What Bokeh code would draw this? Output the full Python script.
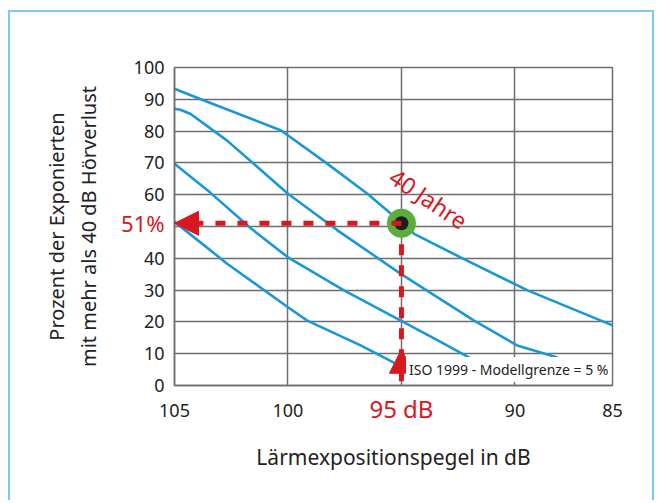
from bokeh.plotting import figure
from bokeh.models import (Range1d, FixedTicker, Label, Arrow, NormalHead,
                          LinearAxis)
from bokeh.embed import file_html
from bokeh.resources import INLINE

# ---------------- data ----------------
x_ticks = [105, 100, 95, 90, 85.7]
x_tick_overrides = {85.7: "85", 95: ""}
y_ticks = [0, 10, 20, 30, 40, 50, 60, 70, 80, 90, 100]
y_tick_overrides = {50: ""}

kurve_1_x = [105.0, 103.7, 100.3, 98.26, 96.5, 95.03, 94.44, 92.4, 89.44, 85.7]
kurve_1_y = [93.3, 89.6, 80.2, 69.7, 60.3, 51.4, 47.7, 40.3, 29.9, 18.9]

kurve_2_x = [105.0, 104.74, 104.29, 102.68, 100.0, 97.82, 95.03, 91.8, 89.9, 88.27, 87.9]
kurve_2_y = [87.0, 86.7, 85.4, 77.0, 60.3, 48.8, 35.1, 20.4, 12.6, 9.1, 8.2]

kurve_3_x = [105.0, 103.4, 101.65, 100.0, 97.53, 95.03, 93.5, 92.09, 91.8]
kurve_3_y = [69.7, 60.5, 49.5, 40.3, 29.9, 20.4, 14.6, 9.1, 8.0]

kurve_4_x = [105.0, 104.51, 102.68, 100.0, 99.15, 96.8, 95.25]
kurve_4_y = [51.5, 48.7, 38.3, 24.6, 20.4, 12.6, 6.9]

kurven = [(kurve_1_x, kurve_1_y), (kurve_2_x, kurve_2_y),
          (kurve_3_x, kurve_3_y), (kurve_4_x, kurve_4_y)]

pegel_db = 95        # marked exposure level
anteil_prozent = 51  # resulting share
modellgrenze = 5     # ISO 1999 model limit in %
pfeil_spitze_y = 11.4

label_40 = "40 Jahre"
label_iso = "ISO 1999 - Modellgrenze = 5 %"
label_pct = "51%"
label_db = "95 dB"
x_title = "Lärmexpositionspegel in dB"
y_title = "Prozent der Exponierten\nmit mehr als 40 dB Hörverlust"

# ---------------- styling ----------------
FONT = "Noto Sans"
BLUE = "#1a98d5"
RED = "#d7191f"
GREEN = "#5aae3c"
GRID = "#6e6e6e"
TXT = "#222222"
FRAME = "#7cc8ee"

p = figure(width=646, height=490,
           x_range=Range1d(105, 85.7), y_range=Range1d(0, 100),
           output_backend="svg", toolbar_location=None,
           min_border_left=164, min_border_right=44,
           min_border_top=55, min_border_bottom=117,
           background_fill_color="white", border_fill_color="white")
p.styles = {"margin-left": "8px", "margin-top": "10px",
            "border-left": f"2px solid {FRAME}",
            "border-top": f"2px solid {FRAME}",
            "border-right": f"2px solid {FRAME}"}

p.xaxis.ticker = FixedTicker(ticks=x_ticks)
p.xaxis.major_label_overrides = x_tick_overrides
p.yaxis.ticker = FixedTicker(ticks=y_ticks)
p.yaxis.major_label_overrides = y_tick_overrides

p.grid.grid_line_color = GRID
p.grid.grid_line_width = 1.5
p.outline_line_color = GRID
p.outline_line_width = 1.5

# secondary axes carrying the red marked values and the titles
x_mark_axis = LinearAxis(ticker=FixedTicker(ticks=[pegel_db]),
                         major_label_overrides={pegel_db: label_db})
y_mark_axis = LinearAxis(ticker=FixedTicker(ticks=[anteil_prozent]),
                         major_label_overrides={anteil_prozent: label_pct})
p.add_layout(x_mark_axis, "below")
p.add_layout(y_mark_axis, "left")

for ax in (p.xaxis + p.yaxis):
    ax.axis_line_color = GRID
    ax.axis_line_width = 1.5
    ax.major_tick_out = 0
    ax.major_tick_in = 0
    ax.minor_tick_line_color = None
    ax.major_label_text_font = FONT
    ax.major_label_text_font_size = "18px"
    ax.major_label_text_color = TXT
    ax.axis_label_text_font = FONT
    ax.axis_label_text_font_size = "21px"
    ax.axis_label_text_font_style = "normal"
    ax.axis_label_text_color = TXT

for ax in (x_mark_axis, y_mark_axis):
    ax.axis_line_color = None
    ax.major_label_text_color = RED
x_mark_axis.major_label_text_font_size = "24px"
y_mark_axis.major_label_text_font_size = "22px"

p.xaxis[0].major_label_standoff = 18
p.yaxis[0].major_label_standoff = 10
x_mark_axis.major_label_standoff = -28
y_mark_axis.major_label_standoff = -34
x_mark_axis.axis_label = x_title
y_mark_axis.axis_label = y_title
x_mark_axis.axis_label_standoff = 15
y_mark_axis.axis_label_standoff = 16
y_mark_axis.axis_label_text_font_size = "20px"
y_mark_axis.axis_label_text_line_height = 1.2

for kx, ky in kurven:
    p.line(kx, ky, line_color=BLUE, line_width=2.6)

# vertical dashed line from point down to axis
p.line([pegel_db, pegel_db], [anteil_prozent, 0], line_color=RED,
       line_width=5, line_dash="11 10")

# horizontal dashed arrow to y axis
p.add_layout(Arrow(end=NormalHead(size=24, fill_color=RED, line_color=RED, line_width=1),
                   x_start=pegel_db, y_start=anteil_prozent, x_end=105, y_end=anteil_prozent,
                   line_color=RED, line_width=5, line_dash="10 12"))
# upward arrow head at bottom
p.add_layout(Arrow(end=NormalHead(size=24, fill_color=RED, line_color=RED, line_width=1),
                   x_start=pegel_db, y_start=0, x_end=pegel_db, y_end=pfeil_spitze_y,
                   line_alpha=0))

p.scatter([pegel_db], [anteil_prozent], size=29, fill_color=GREEN, line_color=None)
p.scatter([pegel_db], [anteil_prozent], size=14, fill_color="#1f1f1f", line_color=None)

p.add_layout(Label(x=93.8, y=58.8, text=label_40, angle=-0.59,
                   text_align="center", text_baseline="middle",
                   text_color=RED, text_font=FONT, text_font_size="23px"))
p.add_layout(Label(x=94.8, y=modellgrenze, text=label_iso,
                   text_align="left", text_baseline="middle",
                   text_color=TXT, text_font=FONT, text_font_size="14px",
                   background_fill_color="white", padding=3))

open("out.html", "w").write(file_html(p, INLINE))
